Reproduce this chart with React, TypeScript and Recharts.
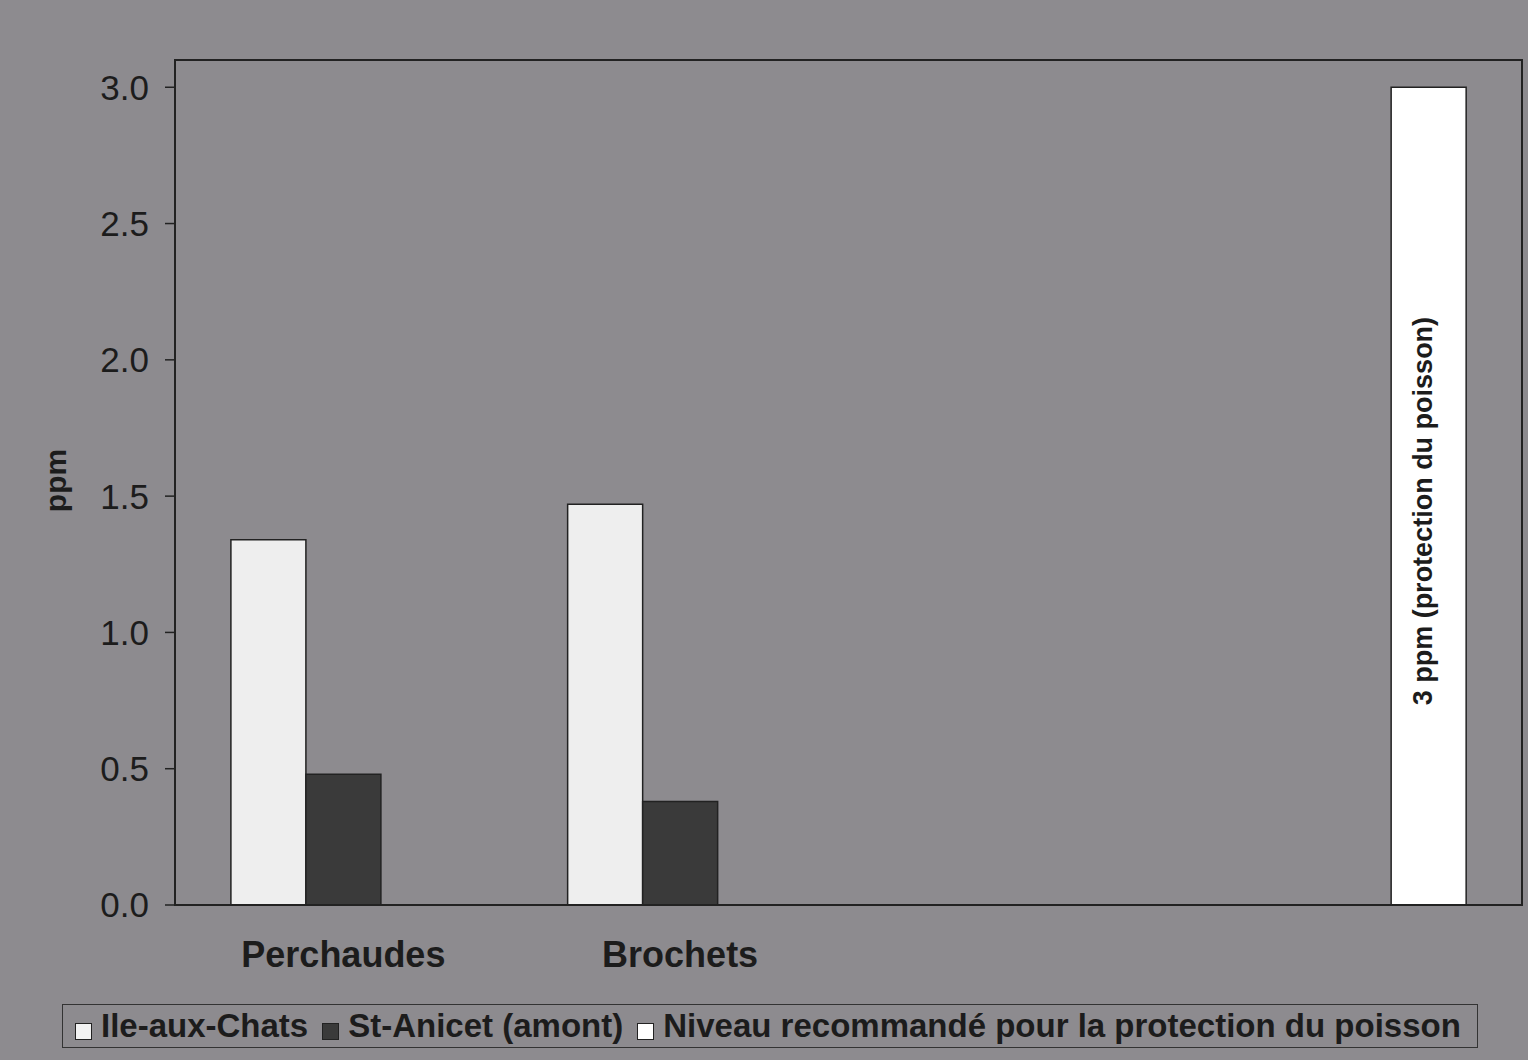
import { BarChart, Bar, XAxis, YAxis, Legend, ReferenceArea } from "recharts";

// catégories (les deux dernières sans étiquette)
const categories = ["Perchaudes", "Brochets", "", ""];
const ileAuxChats = [1.34, 1.47, null, null];
const stAnicet = [0.48, 0.38, null, null];
const niveauRecommande = [null, null, null, 3.0];
const yTicks = [0, 0.5, 1.0, 1.5, 2.0, 2.5, 3.0];

const seriesNames = {
  ile: "Ile-aux-Chats",
  anicet: "St-Anicet (amont)",
  niveau: "Niveau recommandé pour la protection du poisson",
};

const chartData = categories.map((cat, i) => ({
  cat,
  ile: ileAuxChats[i],
  anicet: stAnicet[i],
  niveau: niveauRecommande[i],
}));

const FONT = "'Liberation Sans', Arial, sans-serif";
const INK = "#1c1c1c";

function NiveauLabel(props: any) {
  const { x, y, width, height, value } = props;
  if (value == null) return null;
  const cx = x + width / 2 - 6;
  const cy = y + height / 2 + 15;
  return (
    <text
      x={cx}
      y={cy}
      transform={`rotate(-90, ${cx}, ${cy})`}
      textAnchor="middle"
      dominantBaseline="central"
      fontFamily={FONT}
      fontWeight="bold"
      fontSize={27}
      fill={INK}
    >
      3 ppm (protection du poisson)
    </text>
  );
}

function LegendBox() {
  const items = [
    { label: seriesNames.ile, color: "#f2f2f2" },
    { label: seriesNames.anicet, color: "#3a3a3a" },
    { label: seriesNames.niveau, color: "#ffffff" },
  ];
  return (
    <div
      style={{
        border: "1.5px solid #333",
        width: 1416,
        height: 44,
        display: "flex",
        alignItems: "center",
        boxSizing: "border-box",
        paddingLeft: 12,
        fontFamily: FONT,
        fontWeight: "bold",
        fontSize: 33,
        color: INK,
        whiteSpace: "nowrap",
      }}
    >
      {items.map((it) => (
        <span key={it.label} style={{ display: "inline-flex", alignItems: "center", marginRight: 14 }}>
          <span
            style={{
              display: "inline-block",
              width: 15,
              height: 15,
              background: it.color,
              border: "1.5px solid #222",
              marginRight: 9,
              marginTop: 10,
            }}
          />
          {it.label}
        </span>
      ))}
    </div>
  );
}

export default function App() {
  return (
    <div
      style={{
        position: "absolute",
        top: 0,
        left: 0,
        width: 1528,
        height: 1060,
        backgroundColor: "#8d8b8f",
        overflow: "hidden",
      }}
    >
      <BarChart
        width={1528}
        height={1060}
        data={chartData}
        margin={{ top: 60, right: 6, bottom: 95, left: 0 }}
        barCategoryGap="16.6%"
        barGap={0}
      >
        <XAxis
          dataKey="cat"
          tickLine={false}
          tickSize={0}
          tickMargin={36}
          axisLine={{ stroke: "#222", strokeWidth: 2 }}
          tick={{ fontFamily: FONT, fontWeight: "bold", fontSize: 36, fill: INK }}
          height={60}
        />
        <YAxis
          width={175}
          domain={[0, 3.1]}
          ticks={yTicks}
          tickFormatter={(v: number) => v.toFixed(1)}
          tickSize={10}
          tickMargin={16}
          axisLine={{ stroke: "#222", strokeWidth: 2 }}
          tickLine={{ stroke: "#222", strokeWidth: 1.5 }}
          tick={{ fontFamily: FONT, fontSize: 35, fill: INK }}
          label={(p: any) => {
            const vb = p.viewBox;
            const cx = vb.x + 55;
            const cy = vb.y + vb.height / 2 - 2;
            return (
              <text
                x={cx}
                y={cy}
                transform={`rotate(-90, ${cx}, ${cy})`}
                textAnchor="middle"
                dominantBaseline="central"
                fontFamily={FONT}
                fontWeight="bold"
                fontSize={30}
                fill={INK}
              >
                ppm
              </text>
            );
          }}
        />
        <Bar dataKey="ile" name={seriesNames.ile} fill="#eeeeee" stroke="#222" strokeWidth={1.5} isAnimationActive={false} />
        <Bar dataKey="anicet" name={seriesNames.anicet} fill="#3a3a3a" stroke="#222" strokeWidth={1.5} isAnimationActive={false} />
        <Bar
          dataKey="niveau"
          name={seriesNames.niveau}
          fill="#ffffff"
          stroke="#222"
          strokeWidth={1.5}
          isAnimationActive={false}
          label={<NiveauLabel />}
        />
        <ReferenceArea y1={0} y2={3.1} fill="none" stroke="#222" strokeWidth={2} ifOverflow="visible" />
        <Legend
          layout="horizontal"
          verticalAlign="middle"
          content={() => <LegendBox />}
          wrapperStyle={{ position: "absolute", top: 1004, left: 62, width: 1416 }}
        />
      </BarChart>
    </div>
  );
}
